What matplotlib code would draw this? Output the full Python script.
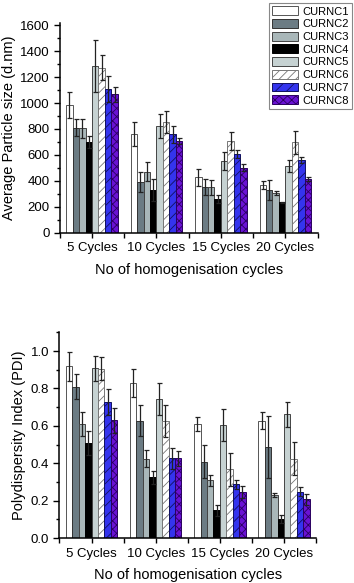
import matplotlib.pyplot as plt
import numpy as np

plt.rcParams['font.family'] = ['Liberation Sans', 'DejaVu Sans']
plt.rcParams['hatch.linewidth'] = 0.6

cycles = ["5 Cycles", "10 Cycles", "15 Cycles", "20 Cycles"]
samples = ["CURNC1", "CURNC2", "CURNC3", "CURNC4", "CURNC5", "CURNC6", "CURNC7", "CURNC8"]

# particle size (d.nm), rows = sample, cols = cycles
size_mean = [
    [983, 760, 426, 365],
    [811, 388, 352, 329],
    [804, 470, 349, 308],
    [701, 329, 259, 234],
    [1284, 824, 552, 514],
    [1274, 855, 704, 696],
    [1109, 758, 603, 557],
    [1068, 706, 501, 411],
]
size_err = [
    [100, 95, 67, 30],
    [62, 77, 59, 80],
    [75, 72, 59, 15],
    [46, 82, 29, 5],
    [200, 95, 67, 43],
    [98, 85, 69, 87],
    [100, 64, 31, 23],
    [57, 26, 28, 15],
]

# polydispersity index
pdi_mean = [
    [0.918, 0.827, 0.609, 0.627],
    [0.810, 0.628, 0.409, 0.486],
    [0.610, 0.425, 0.308, 0.231],
    [0.509, 0.326, 0.148, 0.101],
    [0.907, 0.742, 0.605, 0.662],
    [0.906, 0.626, 0.368, 0.425],
    [0.726, 0.427, 0.288, 0.249],
    [0.630, 0.427, 0.247, 0.208],
]
pdi_err = [
    [0.078, 0.075, 0.037, 0.045],
    [0.066, 0.084, 0.087, 0.165],
    [0.066, 0.047, 0.028, 0.012],
    [0.066, 0.035, 0.028, 0.020],
    [0.066, 0.085, 0.084, 0.068],
    [0.062, 0.086, 0.089, 0.087],
    [0.070, 0.055, 0.025, 0.023],
    [0.066, 0.040, 0.034, 0.029],
]

# style per sample: facecolor, edgecolor, hatch
styles = [
    ("#ffffff", "#555555", None),
    ("#6c7c84", "#333333", None),
    ("#a9b7b9", "#444444", None),
    ("#000000", "#000000", None),
    ("#c6d2d2", "#444444", None),
    ("#ffffff", "#777777", "////"),
    ("#3434ee", "#101060", "///"),
    ("#6a12d4", "#2a0060", "xxxx"),
]

fig = plt.figure(figsize=(3.54, 5.83), dpi=100)
ax1 = fig.add_axes([0.169, 0.601, 0.728, 0.359])
ax2 = fig.add_axes([0.168, 0.077, 0.725, 0.353])

x = np.arange(len(cycles))
w = 0.1


def draw(ax, means, errs, ylabel):
    bars = []
    for i, name in enumerate(samples):
        fc, ec, hatch = styles[i]
        b = ax.bar(x + (i - 3.5) * w, means[i], w, yerr=errs[i], color=fc,
                   edgecolor=ec, hatch=hatch, linewidth=0.7, label=name,
                   error_kw=dict(ecolor='#222222', elinewidth=0.9, capsize=1.8, capthick=0.9))
        bars.append(b)
    ax.set_xlim(-0.5, 3.5)
    ax.set_xticks(x)
    ax.set_xticklabels(cycles, fontsize=9.5)
    ax.set_xticks(np.arange(-0.5, 4.0, 1.0), minor=True)
    ax.tick_params(axis='x', which='both', length=3.5, width=1, direction='out')
    ax.tick_params(axis='y', which='major', length=4, width=1, direction='out', labelsize=9.5)
    ax.tick_params(axis='y', which='minor', length=2.5, width=1, direction='out')
    ax.spines['top'].set_visible(False)
    ax.spines['right'].set_visible(False)
    for s in ['left', 'bottom']:
        ax.spines[s].set_linewidth(1.1)
    ax.set_xlabel('No of homogenisation cycles', fontsize=10.5, labelpad=6)
    ax.set_ylabel(ylabel, fontsize=10.5, labelpad=3)
    return bars


draw(ax1, size_mean, size_err, 'Average Particle size (d.nm)')
ax1.set_ylim(0, 1615)
ax1.set_yticks(np.arange(0, 1601, 200))
ax1.set_yticks(np.arange(0, 1601, 100), minor=True)

draw(ax2, pdi_mean, pdi_err, 'Polydispersity Index (PDI)')
ax2.set_ylim(0, 1.1)
ax2.set_yticks(np.arange(0, 1.01, 0.2))
ax2.set_yticklabels(['0.0', '0.2', '0.4', '0.6', '0.8', '1.0'])
ax2.set_yticks(np.arange(0, 1.11, 0.1), minor=True)

fig.align_ylabels([ax1, ax2])

leg = ax1.legend(loc='upper right', bbox_to_anchor=(0.995, 0.995), bbox_transform=fig.transFigure,
                 fontsize=8, frameon=True, fancybox=False, framealpha=1, edgecolor='#888888',
                 handlelength=2.3, handleheight=0.85, labelspacing=0.22, handletextpad=0.4,
                 borderpad=0.3, borderaxespad=0)
leg.get_frame().set_linewidth(0.8)

fig.savefig('out.png', dpi=100)
